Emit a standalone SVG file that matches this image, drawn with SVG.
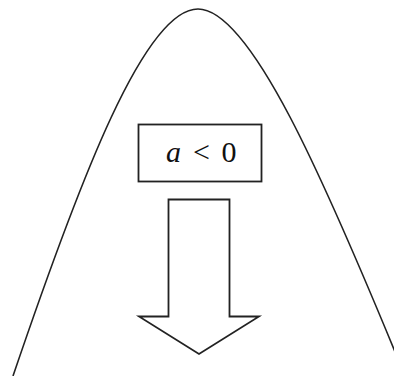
<svg xmlns="http://www.w3.org/2000/svg" width="394" height="376" viewBox="0 0 394 376">
<style>
.ln{fill:none;stroke:#222;stroke-width:1.6}
.sh{fill:#fff;stroke:#222;stroke-width:1.8}
.t{font-family:"Liberation Serif",serif;font-size:30px;fill:#111}
</style>
<rect width="394" height="376" fill="#fff"/>
<g id="parabola">
<path class="ln" d="M13,376 C81,176 145,9 198,9 C250,9 323,176 405,376"/>
</g>
<g id="label">
<rect class="sh" x="138.5" y="124.5" width="123" height="57"/>
<text class="t" x="166" y="162" font-style="italic">a</text>
<text class="t" x="201.5" y="162" text-anchor="middle">&lt;</text>
<text class="t" x="229" y="162" text-anchor="middle">0</text>
</g>
<g id="arrow">
<path class="sh" d="M168.5,199.5 H229.5 V316.5 H259 L199,354 L139,316.5 H168.5 Z"/>
</g>
</svg>
